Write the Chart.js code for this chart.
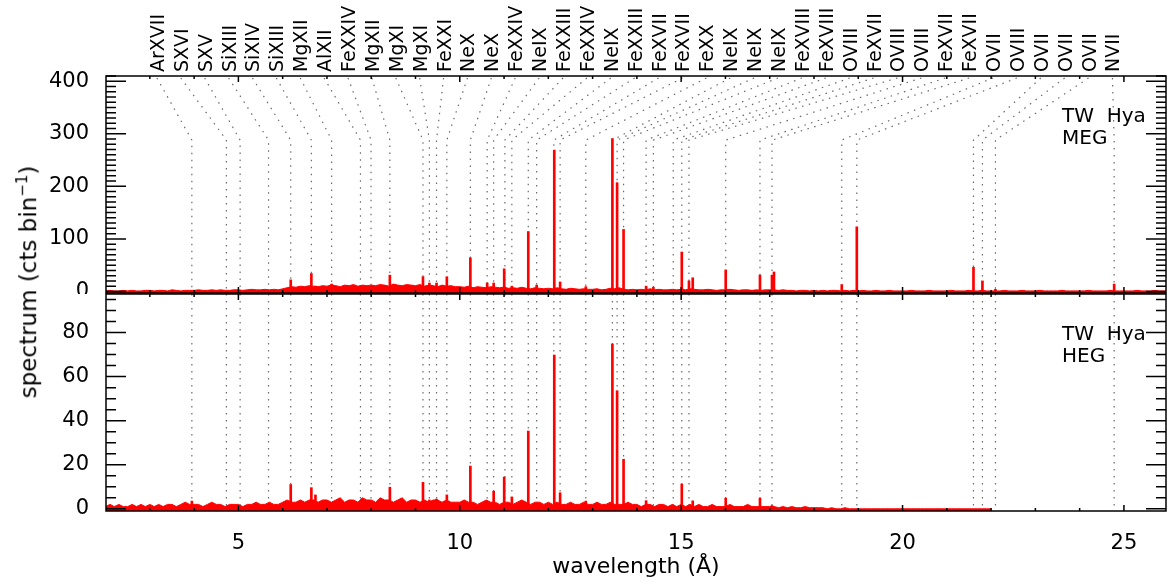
<!DOCTYPE html>
<html>
<head>
<meta charset="utf-8">
<title>TW Hya MEG / HEG spectrum</title>
<script src="https://cdn.jsdelivr.net/npm/chart.js@4.4.1/dist/chart.umd.min.js"></script>
<style>
  html, body { margin: 0; padding: 0; background: #fff; }
  #wrap { position: relative; width: 1167px; height: 585px; overflow: hidden; background: #fff; }
  canvas { position: absolute; left: 0; }
  #meg { top: 0; }
  #heg { top: 293px; }
  #ytitle {
    position: absolute; left: 27px; top: 282px;
    transform: translate(-50%, -50%) rotate(-90deg);
    white-space: nowrap; font: 23px 'DejaVu Sans', sans-serif; color: #000;
  }
  #ytitle sup { font-size: 15px; }
</style>
</head>
<body>
<div id="wrap">
  <canvas id="meg" width="1167" height="294"></canvas>
  <canvas id="heg" width="1167" height="292"></canvas>
  <div id="ytitle">spectrum (cts bin<sup>−1</sup>)</div>
</div>
<script>
// continuum is binned on a regular wavelength grid (Å)
const gridStart = 2.0;
const gridStep = 0.1;

// MEG continuum counts, 2.0 .. 26.0 Å
const megContinuum = [
  1,2,1,1,2,1,2,1,1,2,
  2,1,2,2,1,3,2,1,2,2,
  2,3,2,2,3,2,3,2,2,3,
  3,2,3,4,3,3,4,3,4,3,
  5,7,9,8,10,9,11,10,9,11,
  10,12,11,9,12,11,13,10,12,11,
  12,11,13,12,10,14,12,11,13,12,
  11,13,10,12,11,9,12,10,11,9,
  9,8,10,7,9,8,7,9,8,7,
  8,6,7,6,8,6,5,7,6,5,
  6,5,7,5,4,6,5,4,5,4,
  4,5,3,4,6,5,7,4,3,4,
  3,4,3,5,3,4,3,3,4,3,
  4,3,5,4,3,3,4,3,2,3,
  3,4,3,2,3,3,2,3,2,3,
  3,3,2,3,2,2,1,2,2,1,
  2,1,2,1,2,2,1,2,1,2,
  1,2,1,1,2,1,1,2,1,1,
  1,1,2,1,1,1,2,1,1,1,
  1,2,1,1,1,2,1,1,2,1,
  1,1,1,2,1,1,1,2,1,1,
  1,2,1,1,1,1,2,1,1,1,
  1,1,2,1,1,1,1,2,1,1,
  1,1,1,2,1,1,1,2,1,1,
  1
];

// HEG continuum counts, 2.0 .. 22.0 Å
const hegContinuum = [
  1,2,1,2,1,1,2,1,2,1,
  2,1,2,1,2,2,1,2,3,2,
  2,2,1,2,3,2,2,1,2,2,
  2,1,2,2,3,2,2,3,2,2,
  3,4,3,3,4,3,4,4,3,4,
  4,3,4,5,3,4,4,3,5,4,
  4,3,5,4,4,3,4,5,3,4,
  4,3,4,3,4,4,3,4,3,3,
  3,4,3,3,2,3,4,3,3,2,
  3,3,2,3,4,3,2,3,3,2,
  3,2,3,2,2,3,2,2,3,2,
  2,3,2,2,3,2,2,2,3,2,
  2,1,2,2,1,2,2,1,2,1,
  2,1,2,1,2,1,1,2,1,1,
  1,2,1,1,1,2,1,1,1,1,
  1,1,0.5,1,0.5,1,0.5,0.5,1,0.5,
  0.5,0.5,0.5,0,0.5,0,0,0.5,0,0,
  0,0,0,0,0,0,0,0,0,0,
  0,0,0,0,0,0,0,0,0,0,
  0,0,0,0,0,0,0,0,0,0,
  0
];

// emission line peaks
const megPeakWaves  = [6.182, 6.648, 6.74, 7.106, 8.421, 9.169, 9.314, 9.475, 9.708, 10.239, 10.619, 10.765, 11.003, 11.176, 11.547, 11.736, 12.134, 12.266, 12.846, 13.447, 13.553, 13.699, 14.208, 14.373, 15.014, 15.176, 15.261, 16.006, 16.780, 17.051, 17.096, 18.627, 18.967, 21.602, 21.804, 22.098, 24.779];
const megPeakCounts = [22, 34, 10, 14, 31, 28, 16, 16, 28, 64, 16, 16, 43, 10, 114, 12, 269, 18, 9, 291, 207, 118, 10, 8, 75, 20, 26, 41, 31, 31, 37, 13, 123, 46, 20, 4, 14];

const hegPeakWaves  = [3.949, 6.182, 6.648, 6.74, 8.421, 9.169, 9.314, 9.475, 9.708, 10.239, 10.765, 11.003, 11.176, 11.547, 12.134, 12.266, 12.846, 13.447, 13.553, 13.699, 14.208, 15.014, 15.261, 16.006, 16.780, 17.051];
const hegPeakCounts = [3.5, 11, 9.6, 6.3, 9.8, 12, 4, 4.4, 6.3, 19.4, 8, 14.4, 5.4, 35.3, 69.8, 7.3, 3.5, 74.8, 53.6, 22.5, 3.7, 11.2, 3.6, 4.8, 4.8, 1.5];

// line identifications
const lineLabels = ['ArXVII','SXVI','SXV','SiXIII','SiXIV','SiXIII','MgXII','AlXII','FeXXIV','MgXII','MgXI','MgXI','FeXXI','NeX','NeX','FeXXIV','NeIX','FeXXIII','FeXXIV','NeIX','FeXXIII','FeXVII','FeXVII','FeXX','NeIX','NeIX','NeIX','FeXVIII','FeXVIII','OVIII','FeXVII','OVIII','OVIII','FeXVII','FeXVII','OVII','OVIII','OVII','OVII','OVII','NVII'];
const lineWaves = [3.949, 4.729, 5.039, 5.681, 6.182, 6.648, 7.106, 7.757, 7.996, 8.421, 9.169, 9.314, 9.475, 9.708, 10.239, 10.619, 10.765, 11.019, 11.176, 11.547, 11.736, 12.124, 12.266, 12.846, 13.447, 13.553, 13.699, 14.208, 14.373, 14.821, 15.014, 15.176, 16.006, 16.780, 17.051, 18.627, 18.967, 21.602, 21.804, 22.098, 24.779];

// axes
const xTicks = [5, 10, 15, 20, 25];
const megYTicks = [0, 100, 200, 300, 400];
const hegYTicks = [0, 20, 40, 60, 80];

// layout
const xMin = 2.01, xMax = 25.95;
const labelFirst = 3.16, labelLast = 24.74;  // label positions spread evenly along the top
const kneeCounts = 288;                      // where the leader lines turn vertical (MEG units)
const FONT = 'DejaVu Sans';

Chart.defaults.font.family = FONT;
Chart.defaults.color = '#000';

function continuumPoints(values) {
  return values.map((v, i) => ({ x: gridStart + i * gridStep, y: v }));
}
function peakPoints(waves, counts) {
  return waves.map((w, i) => ({ x: w, y: counts[i] }));
}
function labelPos(i) {
  return labelFirst + i * (labelLast - labelFirst) / (lineLabels.length - 1);
}

function spectrumDatasets(cont, waves, counts) {
  return [
    { type: 'line', data: continuumPoints(cont), borderColor: '#ff0000', backgroundColor: '#ff0000',
      borderWidth: 1, pointRadius: 0, fill: 'start', tension: 0 },
    { type: 'bar', data: peakPoints(waves, counts), backgroundColor: '#ff0000', borderWidth: 0,
      barThickness: 2, grouped: false }
  ];
}

// box with inward IDL-style ticks on all four sides
function framePlugin(yMinorStep) {
  return {
    id: 'frame',
    afterDraw(chart) {
      const { ctx, chartArea: a, scales: { x, y } } = chart;
      ctx.save();
      ctx.strokeStyle = '#000';
      ctx.lineWidth = 1.5;
      ctx.strokeRect(a.left, a.top, a.right - a.left, a.bottom - a.top);
      ctx.beginPath();
      for (let v = Math.ceil(x.min); v <= x.max; v++) {
        const len = xTicks.includes(v) ? 6 : 3;
        const px = x.getPixelForValue(v);
        ctx.moveTo(px, a.top); ctx.lineTo(px, a.top + len);
        ctx.moveTo(px, a.bottom); ctx.lineTo(px, a.bottom - len);
      }
      const majors = y.ticks.map(t => t.value);
      for (let v = Math.ceil(y.min / yMinorStep) * yMinorStep; v <= y.max; v += yMinorStep) {
        const len = majors.includes(v) ? 20 : 10;
        const py = y.getPixelForValue(v);
        ctx.moveTo(a.left, py); ctx.lineTo(a.left + len, py);
        ctx.moveTo(a.right, py); ctx.lineTo(a.right - len, py);
      }
      ctx.stroke();
      ctx.restore();
    }
  };
}

function nameTag(ctx, a, second) {
  ctx.save();
  ctx.fillStyle = '#000';
  ctx.font = '20px "' + FONT + '"';
  ctx.textAlign = 'left';
  ctx.textBaseline = 'alphabetic';
  ctx.fillText('TW  Hya', 1062, a.top + 46);
  ctx.fillText(second, 1062, a.top + 68);
  ctx.restore();
}

function dotted(ctx) {
  ctx.strokeStyle = '#6a6a6a';
  ctx.lineWidth = 1.2;
  ctx.setLineDash([1.5, 5.5]);
}

const megMarkers = {
  id: 'megMarkers',
  beforeDatasetsDraw(chart) {
    const { ctx, chartArea: a, scales: { x, y } } = chart;
    const knee = y.getPixelForValue(kneeCounts);
    ctx.save();
    dotted(ctx);
    lineWaves.forEach((w, i) => {
      const lx = x.getPixelForValue(labelPos(i));
      const px = x.getPixelForValue(w);
      ctx.beginPath();
      ctx.moveTo(lx, a.top + 2);
      ctx.lineTo(px, knee);
      ctx.lineTo(px, a.bottom);
      ctx.stroke();
    });
    ctx.restore();
  },
  afterDraw(chart) {
    const { ctx, chartArea: a, scales: { x } } = chart;
    ctx.save();
    ctx.fillStyle = '#000';
    ctx.font = '19px "' + FONT + '"';
    ctx.textAlign = 'left';
    ctx.textBaseline = 'alphabetic';
    lineLabels.forEach((lab, i) => {
      const lx = x.getPixelForValue(labelPos(i));
      ctx.save();
      ctx.translate(lx + 7, a.top - 4);
      ctx.rotate(-Math.PI / 2);
      ctx.fillText(lab, 0, 0);
      ctx.restore();
    });
    ctx.restore();
    nameTag(ctx, a, 'MEG');
  }
};

const hegMarkers = {
  id: 'hegMarkers',
  beforeDatasetsDraw(chart) {
    const { ctx, chartArea: a, scales: { x } } = chart;
    ctx.save();
    dotted(ctx);
    lineWaves.forEach(w => {
      const px = x.getPixelForValue(w);
      ctx.beginPath();
      ctx.moveTo(px, a.top);
      ctx.lineTo(px, a.bottom);
      ctx.stroke();
    });
    ctx.restore();
  },
  afterDraw(chart) {
    nameTag(chart.ctx, chart.chartArea, 'HEG');
  }
};

function yAxis(min, max, ticks) {
  return {
    min, max,
    afterFit: s => { s.width = 106; s.paddingTop = 0; s.paddingBottom = 0; },
    afterBuildTicks: s => { s.ticks = ticks.map(v => ({ value: v })); },
    grid: { display: false },
    border: { display: false },
    ticks: { padding: 9, font: { size: 21 }, color: '#000' }
  };
}

new Chart(document.getElementById('meg'), {
  type: 'line',
  data: { datasets: spectrumDatasets(megContinuum, megPeakWaves, megPeakCounts) },
  options: {
    responsive: false,
    animation: false,
    layout: { padding: { top: 76, right: 1, bottom: 1, left: 0 } },
    plugins: { legend: { display: false }, tooltip: { enabled: false } },
    scales: {
      x: { type: 'linear', min: xMin, max: xMax, display: false, offset: false },
      y: yAxis(-3, 410, megYTicks)
    }
  },
  plugins: [megMarkers, framePlugin(10)]
});

new Chart(document.getElementById('heg'), {
  type: 'line',
  data: { datasets: spectrumDatasets(hegContinuum, hegPeakWaves, hegPeakCounts) },
  options: {
    responsive: false,
    animation: false,
    layout: { padding: { top: 1, right: 1, bottom: 0, left: 0 } },
    plugins: { legend: { display: false }, tooltip: { enabled: false } },
    scales: {
      x: {
        type: 'linear', min: xMin, max: xMax, offset: false,
        afterFit: s => { s.height = 74; s.paddingLeft = 0; s.paddingRight = 0; },
        afterBuildTicks: s => { s.ticks = xTicks.map(v => ({ value: v })); },
        grid: { display: false },
        border: { display: false },
        ticks: { padding: 12, autoSkip: false, maxRotation: 0, font: { size: 21 }, color: '#000' },
        title: { display: true, text: 'wavelength (Å)', font: { size: 22 }, color: '#000', padding: { top: 0, bottom: 5 } }
      },
      y: yAxis(-1, 97.5, hegYTicks)
    }
  },
  plugins: [hegMarkers, framePlugin(5)]
});
</script>
</body>
</html>
